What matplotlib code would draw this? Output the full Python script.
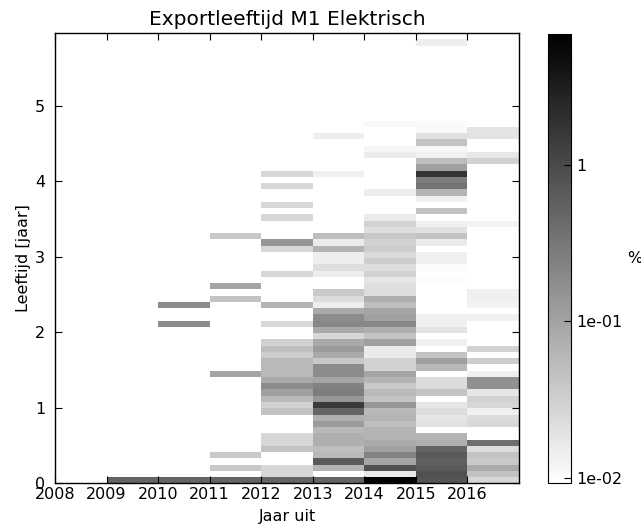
import numpy as np
import matplotlib
matplotlib.use('Agg')
import matplotlib.pyplot as plt
from matplotlib.colors import LogNorm

# export share (%) per age bin, one list per export year, bin 0 = youngest
years = [2009, 2010, 2011, 2012, 2013, 2014, 2015, 2016]
n_bins = 72
max_age = 5.96

pct_2009 = [0.51]

pct_2010 = [
    0.51, 0, 0, 0, 0, 0, 0, 0, 0, 0, 0, 0,
    0, 0, 0, 0, 0, 0, 0, 0, 0, 0, 0, 0,
    0, 0.18, 0, 0, 0.18,
]

pct_2011 = [
    0.51, 0, 0.038, 0, 0.038, 0, 0, 0, 0, 0, 0, 0,
    0, 0, 0, 0, 0, 0.095, 0, 0, 0, 0, 0, 0,
    0, 0, 0, 0, 0, 0.044, 0, 0.095, 0, 0, 0, 0,
    0, 0, 0, 0.038,
]

pct_2012 = [
    0.51, 0.026, 0.026, 0, 0, 0.044, 0.026, 0.026, 0, 0, 0, 0.044,
    0.030, 0.057, 0.108, 0.182, 0.084, 0.057, 0.057, 0.057, 0.034, 0.050, 0.030, 0,
    0, 0.026, 0, 0, 0.064, 0, 0, 0, 0, 0.026, 0, 0,
    0, 0.026, 0.14, 0, 0, 0, 0.026, 0, 0.026, 0, 0, 0.026,
    0, 0.026,
]

pct_2013 = [
    0.51, 0, 0.064, 0.67, 0.057, 0.050, 0.073, 0.073, 0.057, 0.123, 0.073, 0.51,
    1.5, 0.14, 0.268, 0.236, 0.095, 0.182, 0.182, 0.038, 0.084, 0.123, 0.084, 0.026,
    0.084, 0.207, 0.182, 0.084, 0.0143, 0.0228, 0.038, 0, 0, 0.0143, 0.0217, 0.0143,
    0.0143, 0.067, 0.0155, 0.050, 0, 0, 0, 0, 0, 0, 0, 0,
    0, 0.0136, 0, 0, 0, 0, 0, 0.0143,
]

pct_2014 = [
    6.87, 0.0167, 0.86, 0.095, 0.236, 0.108, 0.084, 0.064, 0.064, 0.050, 0.064, 0.057,
    0.14, 0.044, 0.057, 0.038, 0.064, 0.095, 0.030, 0.030, 0.0155, 0.0155, 0.108, 0.044,
    0.073, 0.207, 0.108, 0.095, 0.050, 0.073, 0.0217, 0.0217, 0.0176, 0.030, 0.0217, 0.034,
    0.024, 0.034, 0.030, 0.038, 0.0217, 0.030, 0.0155, 0, 0, 0, 0.0143, 0,
    0, 0, 0, 0, 0.0155, 0.0119, 0, 0, 0, 0.011,
]

pct_2015 = [
    0.76, 0.86, 0.67, 0.58, 0.67, 0.51, 0.073, 0.064, 0, 0.020, 0.0176, 0.0228,
    0.0176, 0, 0.0437, 0.0228, 0.0228, 0, 0.0566, 0.108, 0.0437, 0, 0.0136, 0,
    0.0185, 0.0136, 0.0136, 0, 0, 0, 0, 0, 0.010, 0.0092, 0.010, 0.0136,
    0.0136, 0, 0.0155, 0.0437, 0.020, 0.0136, 0, 0.0437, 0, 0.0136, 0.064, 0.348,
    0.268, 1.8, 0.108, 0.050, 0.0136, 0.0119, 0.045, 0.021, 0.0105, 0.0105, 0, 0,
    0, 0, 0, 0, 0, 0, 0, 0, 0, 0, 0.0143,
]

pct_2016 = [
    0.026, 0.0437, 0.084, 0.038, 0.0437, 0.0228, 0.40, 0, 0, 0.026, 0.0228, 0.0136,
    0.026, 0.0296, 0.0176, 0.16, 0.16, 0.0136, 0, 0.0337, 0, 0.0296, 0, 0,
    0, 0, 0.0136, 0, 0.0126, 0.0136, 0.0136, 0, 0, 0, 0, 0,
    0, 0, 0, 0, 0, 0.0126, 0, 0, 0, 0, 0, 0,
    0, 0, 0, 0.0296, 0.0167, 0, 0, 0.0185, 0.0185,
]

columns = [pct_2009, pct_2010, pct_2011, pct_2012,
           pct_2013, pct_2014, pct_2015, pct_2016]

cbar_ticks = [0.01, 0.1, 1]
cbar_labels = ['1e-02', '1e-01', '1']

plt.rcParams['font.family'] = 'DejaVu Sans'
plt.rcParams['font.size'] = 11.5

grid = np.zeros((n_bins, len(years)))
for j, col in enumerate(columns):
    grid[:len(col), j] = col
grid = np.ma.masked_equal(grid, 0)

x_edges = np.arange(years[0], years[-1] + 2)
y_edges = np.linspace(0, max_age, n_bins + 1)

W, H = 641, 529
fig = plt.figure(figsize=(W / 100, H / 100), dpi=100)
ax = fig.add_axes([55 / W, 1 - 483.3 / H, 464 / W, 450.3 / H])

mesh = ax.pcolormesh(x_edges, y_edges, grid, cmap='gray_r',
                     norm=LogNorm(vmin=grid.min(), vmax=grid.max()),
                     edgecolors='face', linewidth=0)

ax.set_xlim(2008, 2017)
ax.set_ylim(0, max_age)
ax.set_xticks(range(2008, 2017))
ax.set_yticks(range(0, 6))
ax.tick_params(direction='in', top=True, right=True, length=5)
ax.tick_params(axis='x', pad=3)
ax.tick_params(axis='y', pad=7)
for s in ax.spines.values():
    s.set_linewidth(1.0)

ax.set_title('Exportleeftijd M1 Elektrisch', fontsize=14.5)
ax.set_xlabel('Jaar uit', labelpad=5)
ax.set_ylabel('Leeftijd [jaar]', labelpad=3)

cax = fig.add_axes([548.3 / W, 1 - 483.3 / H, 22.4 / W, 449.3 / H])
cb = fig.colorbar(mesh, cax=cax)
cb.set_ticks(cbar_ticks)
cb.set_ticklabels(cbar_labels)
cb.ax.minorticks_off()
cb.ax.tick_params(direction='in', length=5, pad=4)
cb.ax.set_ylabel('%', rotation=0, va='center', ha='left', labelpad=3)

fig.savefig('out.png', dpi=100, facecolor='white')
